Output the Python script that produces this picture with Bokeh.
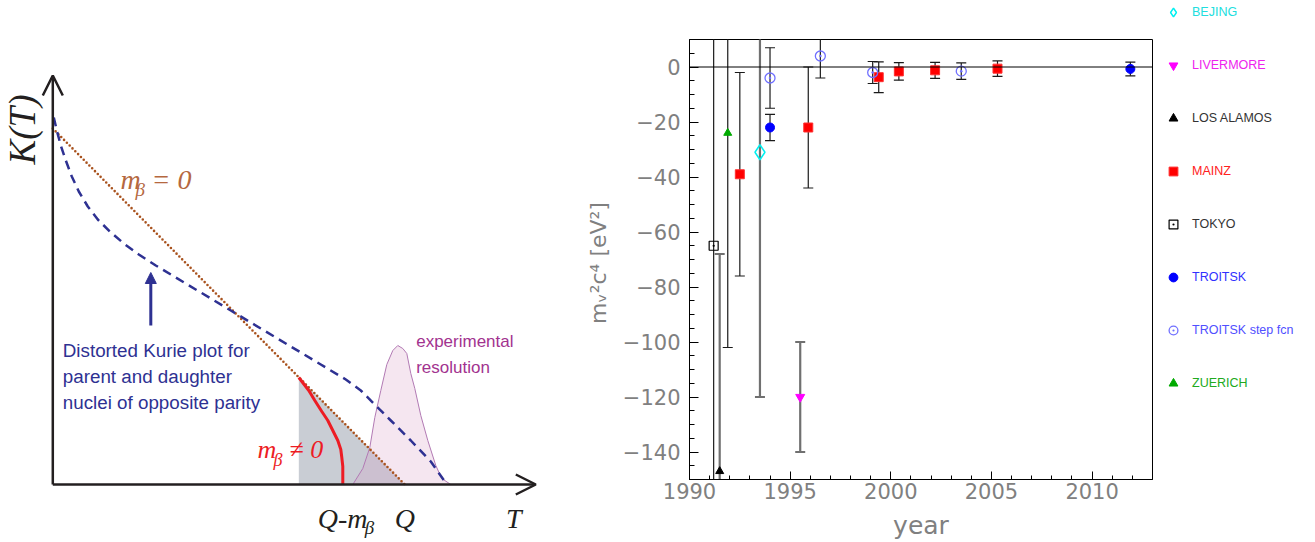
import numpy as np
from bokeh.plotting import figure
from bokeh.models import (Range1d, Span, Label, Legend, LegendItem, Arrow, OpenHead,
                          NormalHead, SingleIntervalTicker, CustomJSTickFormatter)
from bokeh.embed import file_html
from bokeh.resources import INLINE
from bokeh.core.templates import get_env

# ======================= DATA =======================
# --- Left panel: schematic Kurie plot (arbitrary units: T horizontal, K vertical) ---
kurie_T = [0.0, 3.52]                      # m_beta = 0 straight line
kurie_K = [3.56, 0.0]
distorted_T = [0.01, 0.04, 0.08, 0.13, 0.19, 0.26, 0.35, 0.45, 0.57, 0.71, 0.86, 1.03,
               1.23, 1.48, 1.78, 2.08, 2.38, 2.68, 2.93, 3.08, 3.22, 3.38, 3.58, 3.78, 3.94]
distorted_K = [3.67, 3.54, 3.39, 3.24, 3.08, 2.93, 2.78, 2.65, 2.53, 2.41, 2.30, 2.19,
               2.07, 1.92, 1.74, 1.56, 1.38, 1.20, 1.05, 0.94, 0.80, 0.64, 0.44, 0.23, 0.0]
massive_T = [2.46, 2.56, 2.62, 2.69, 2.75, 2.80, 2.85, 2.88, 2.89, 2.90, 2.90]
massive_K = [1.07, 0.94, 0.84, 0.73, 0.64, 0.54, 0.44, 0.35, 0.27, 0.18, 0.0]
resolution_T = [3.00, 3.10, 3.17, 3.22, 3.28, 3.34, 3.40, 3.45, 3.50, 3.54, 3.58, 3.62,
                3.68, 3.75, 3.83, 3.89, 3.98]
resolution_K = [0.0, 0.16, 0.37, 0.67, 0.94, 1.20, 1.34, 1.39, 1.36, 1.31, 1.11, 0.96,
                0.69, 0.44, 0.19, 0.06, 0.0]
axis_T_end = 4.83
axis_K_end = 4.09
pointer_T = 0.98
pointer_K = [1.59, 2.12]

# --- Right panel: neutrino mass squared measurements (eV^2) ---
bejing_year = [1993.5]
bejing_m2 = [-31.0]
bejing_err = [89.0]

livermore_year = [1995.5]
livermore_m2 = [-120.0]
livermore_err = [20.0]

losalamos_year = [1991.5]
losalamos_m2 = [-147.0]
losalamos_err = [79.0]

mainz_year = [1992.5, 1995.9, 1999.4, 2000.4, 2002.2, 2005.3]
mainz_m2 = [-39.0, -22.0, -3.7, -1.6, -1.2, -0.6]
mainz_err = [37.0, 22.0, 5.6, 3.2, 2.9, 2.8]

tokyo_year = [1991.2]
tokyo_m2 = [-65.0]
tokyo_err = [107.0]

troitsk_year = [1994.0, 2011.9]
troitsk_m2 = [-22.0, -0.7]
troitsk_err = [4.8, 2.5]

troitsk_step_year = [1994.0, 1996.5, 1999.1, 2003.5]
troitsk_step_m2 = [-4.0, 4.0, -2.0, -1.5]
troitsk_step_err = [11.0, 8.0, 4.0, 3.0]

zuerich_year = [1991.9]
zuerich_m2 = [-24.0]
zuerich_err = [78.0]

experiments = ["BEJING", "LIVERMORE", "LOS ALAMOS", "MAINZ", "TOKYO", "TROITSK",
               "TROITSK step fcn", "ZUERICH"]
exp_data = {
    "BEJING": (bejing_year, bejing_m2, bejing_err),
    "LIVERMORE": (livermore_year, livermore_m2, livermore_err),
    "LOS ALAMOS": (losalamos_year, losalamos_m2, losalamos_err),
    "MAINZ": (mainz_year, mainz_m2, mainz_err),
    "TOKYO": (tokyo_year, tokyo_m2, tokyo_err),
    "TROITSK": (troitsk_year, troitsk_m2, troitsk_err),
    "TROITSK step fcn": (troitsk_step_year, troitsk_step_m2, troitsk_step_err),
    "ZUERICH": (zuerich_year, zuerich_m2, zuerich_err),
}

# ======================= STYLES =======================
BLK = "#231f20"
BLUE = "#2e3192"
BROWN = "#a9531f"
RED = "#ed1c24"
PURPLE = "#a2338f"
GREY = "#808080"
SERIF = "Liberation Serif"
SANS = "Liberation Sans"

marker_style = {
    "BEJING": dict(marker="diamond", size=15, fill_alpha=0, line_color="#00f0f0", line_width=1.5),
    "LIVERMORE": dict(marker="inverted_triangle", size=9, fill_color="#ff00ff", line_color="#ff00ff"),
    "LOS ALAMOS": dict(marker="triangle", size=8, fill_color="black", line_color="black"),
    "MAINZ": dict(marker="square", size=9, fill_color="#ff0000", line_color="#ff3030"),
    "TOKYO": dict(marker="square_dot", size=9, fill_alpha=0, line_color="black", line_width=1.2),
    "TROITSK": dict(marker="circle", size=9, fill_color="#0000ff", line_color="#0000ff"),
    "TROITSK step fcn": dict(marker="circle_dot", size=10, fill_alpha=0, line_color="#7070ff", line_width=1.3),
    "ZUERICH": dict(marker="triangle", size=8, fill_color="#00aa00", line_color="#00aa00"),
}
thin_bar = dict(line_color="#1a1a1a", line_width=1.2)
thick_bar = dict(line_color="#707070", line_width=2.2)
bar_style = {n: thin_bar for n in experiments}
bar_style.update({"BEJING": thick_bar, "LIVERMORE": thick_bar, "LOS ALAMOS": thick_bar})
legend_color = {
    "BEJING": "#20dede", "LIVERMORE": "#ee22ee", "LOS ALAMOS": "#333333", "MAINZ": "#ff2020",
    "TOKYO": "#333333", "TROITSK": "#3030ff", "TROITSK step fcn": "#5050ff", "ZUERICH": "#20aa20",
}


def lab(p, x, y, text, size, color, font=SERIF, style="italic", xo=0, yo=0, align="left",
        baseline="alphabetic", angle=0.0):
    p.add_layout(Label(x=x, y=y, x_offset=xo, y_offset=yo, text=text, text_font=font,
                       text_font_style=style, text_font_size=f"{size}px", text_color=color,
                       text_align=align, text_baseline=baseline, angle=angle))


# ======================= LEFT PANEL =======================
p1 = figure(width=560, height=542, x_range=Range1d(-0.523, 5.077), y_range=Range1d(-0.58, 4.84),
            output_backend="svg", toolbar_location=None, min_border=0,
            x_axis_location=None, y_axis_location=None)
p1.xgrid.visible = False
p1.ygrid.visible = False
p1.outline_line_color = None

shade_K = float(np.interp(massive_T[0], kurie_T, kurie_K))
p1.patch([massive_T[0], massive_T[0], kurie_T[-1]], [0, shade_K, 0],
         fill_color="#c9cdd4", line_color=None)
p1.patch(resolution_T, resolution_K, fill_color="#d99cc4", fill_alpha=0.25,
         line_color="#b27ab4", line_width=1)
p1.line(kurie_T, kurie_K, line_color=BROWN, line_width=2.6, line_dash="0 4", line_cap="round")
p1.line(massive_T, massive_K, line_color=RED, line_width=3)
p1.line(distorted_T, distorted_K, line_color=BLUE, line_width=2.5, line_dash="9 6")

p1.add_layout(Arrow(x_start=0, y_start=0, x_end=axis_T_end, y_end=0, line_color=BLK, line_width=2.5,
                    end=OpenHead(size=20, line_color=BLK, line_width=2.5)))
p1.add_layout(Arrow(x_start=0, y_start=0, x_end=0, y_end=axis_K_end, line_color=BLK, line_width=2.5,
                    end=OpenHead(size=20, line_color=BLK, line_width=2.5)))
p1.add_layout(Arrow(x_start=pointer_T, y_start=pointer_K[0], x_end=pointer_T, y_end=pointer_K[1],
                    line_color=BLUE, line_width=3,
                    end=NormalHead(size=11, fill_color=BLUE, line_color=BLUE)))

lab(p1, -0.30, 3.55, "K(T)", 37, BLK, align="center", baseline="middle", angle=np.pi / 2)
lab(p1, 0.677, 3.05, "m", 28, "#b5683f")
lab(p1, 0.677, 3.05, "β", 19, "#b5683f", xo=15, yo=-10)
lab(p1, 0.677, 3.05, "= 0", 28, "#b5683f", xo=31)
lab(p1, 2.047, 0.35, "m", 26, RED)
lab(p1, 2.047, 0.35, "β", 18, RED, xo=16, yo=-10)
lab(p1, 2.047, 0.35, "≠ 0", 26, RED, xo=32)
lab(p1, massive_T[-1], -0.34, "Q-m", 28, BLK, xo=-25)
lab(p1, massive_T[-1], -0.34, "β", 19, BLK, xo=22, yo=-9)
lab(p1, kurie_T[-1], -0.34, "Q", 28, BLK, align="center")
lab(p1, axis_T_end, -0.34, "T", 28, BLK, align="center", xo=-22)
for i, line in enumerate(["Distorted Kurie plot for", "parent and daughter",
                          "nuclei of opposite parity"]):
    lab(p1, 0.10, 1.34, line, 18.8, BLUE, font=SANS, style="normal", yo=-26 * i)
for i, line in enumerate(["experimental", "resolution"]):
    lab(p1, 3.634, 1.43, line, 17, PURPLE, font=SANS, style="normal", yo=-26 * i)

# ======================= RIGHT PANEL =======================
p2 = figure(width=594, height=542, x_range=Range1d(1990, 2013), y_range=Range1d(-150, 10),
            output_backend="svg", toolbar_location=None,
            min_border_left=129, min_border_right=2, min_border_top=39, min_border_bottom=62,
            x_axis_label="year", y_axis_label="m\u1d65\u00b2c\u2074  [eV\u00b2]")
p2.xgrid.visible = False
p2.ygrid.visible = False
p2.outline_line_color = "black"
p2.outline_line_width = 1

p2.xaxis.ticker = SingleIntervalTicker(interval=5, num_minor_ticks=5)
p2.yaxis.ticker = SingleIntervalTicker(interval=20, num_minor_ticks=4)
p2.yaxis.formatter = CustomJSTickFormatter(code="return tick < 0 ? '\\u2212' + Math.abs(tick) : String(tick);")
for ax in (p2.xaxis[0], p2.yaxis[0]):
    ax.axis_line_color = "black"
    ax.major_tick_line_color = "black"
    ax.minor_tick_line_color = "black"
    ax.major_tick_out = 0
    ax.minor_tick_out = 0
    ax.major_label_text_font = "DejaVu Sans"
    ax.major_label_text_font_size = "21px"
    ax.major_label_text_color = GREY
    ax.axis_label_text_font = "DejaVu Sans"
    ax.axis_label_text_font_style = "normal"
    ax.axis_label_text_color = GREY
p2.xaxis.major_tick_in = 8
p2.xaxis.minor_tick_in = 4
p2.xaxis.major_label_standoff = 3
p2.xaxis.axis_label_text_font_size = "25px"
p2.xaxis.axis_label_standoff = 9
p2.yaxis.major_tick_in = 9
p2.yaxis.minor_tick_in = 5
p2.yaxis.major_label_standoff = 9
p2.yaxis.axis_label_text_font_size = "22px"
p2.yaxis.axis_label_standoff = 9

p2.add_layout(Span(location=0, dimension="width", line_color="black", line_width=1))

for name in experiments:
    yr, m2, err = exp_data[name]
    lo = [v - e for v, e in zip(m2, err)]
    hi = [v + e for v, e in zip(m2, err)]
    p2.segment(x0=yr, y0=lo, x1=yr, y1=hi, **bar_style[name])
    p2.scatter(x=yr + yr, y=lo + hi, marker="dash", size=10, **bar_style[name])

for name in experiments:
    yr, m2, err = exp_data[name]
    p2.scatter(x=yr, y=m2, **marker_style[name])

# ======================= LEGEND PANEL =======================
# Same data drawn again (falls outside this panel's ranges, so only the legend shows)
p3 = figure(width=161, height=542, x_range=Range1d(0, 1), y_range=Range1d(0, 1),
            output_backend="svg", toolbar_location=None, min_border=0,
            x_axis_location=None, y_axis_location=None)
p3.xgrid.visible = False
p3.ygrid.visible = False
p3.outline_line_color = None

legend_top = 11.7   # centre of first row, px from top
legend_pitch = 53.1
for i, name in enumerate(experiments):
    yr, m2, err = exp_data[name]
    proxy = p3.scatter(x=yr, y=m2, **marker_style[name])
    cy = legend_top + i * legend_pitch
    leg = Legend(items=[LegendItem(label=name, renderers=[proxy])],
                 location=(8, int(round(542 - cy - 11))),
                 glyph_width=22, glyph_height=22, label_height=22, label_standoff=8,
                 padding=0, margin=0, spacing=0, border_line_color=None,
                 background_fill_alpha=0, label_text_font=SANS, label_text_font_size="12.5px",
                 label_text_color=legend_color[name])
    p3.add_layout(leg)

template = get_env().from_string("""{% extends "file.html" %}
{% block postamble %}<style>body { display: flex !important; flex-direction: row; align-items: flex-start; }</style>{% endblock %}
""")
open("out.html", "w").write(file_html([p1, p2, p3], INLINE, template=template))
